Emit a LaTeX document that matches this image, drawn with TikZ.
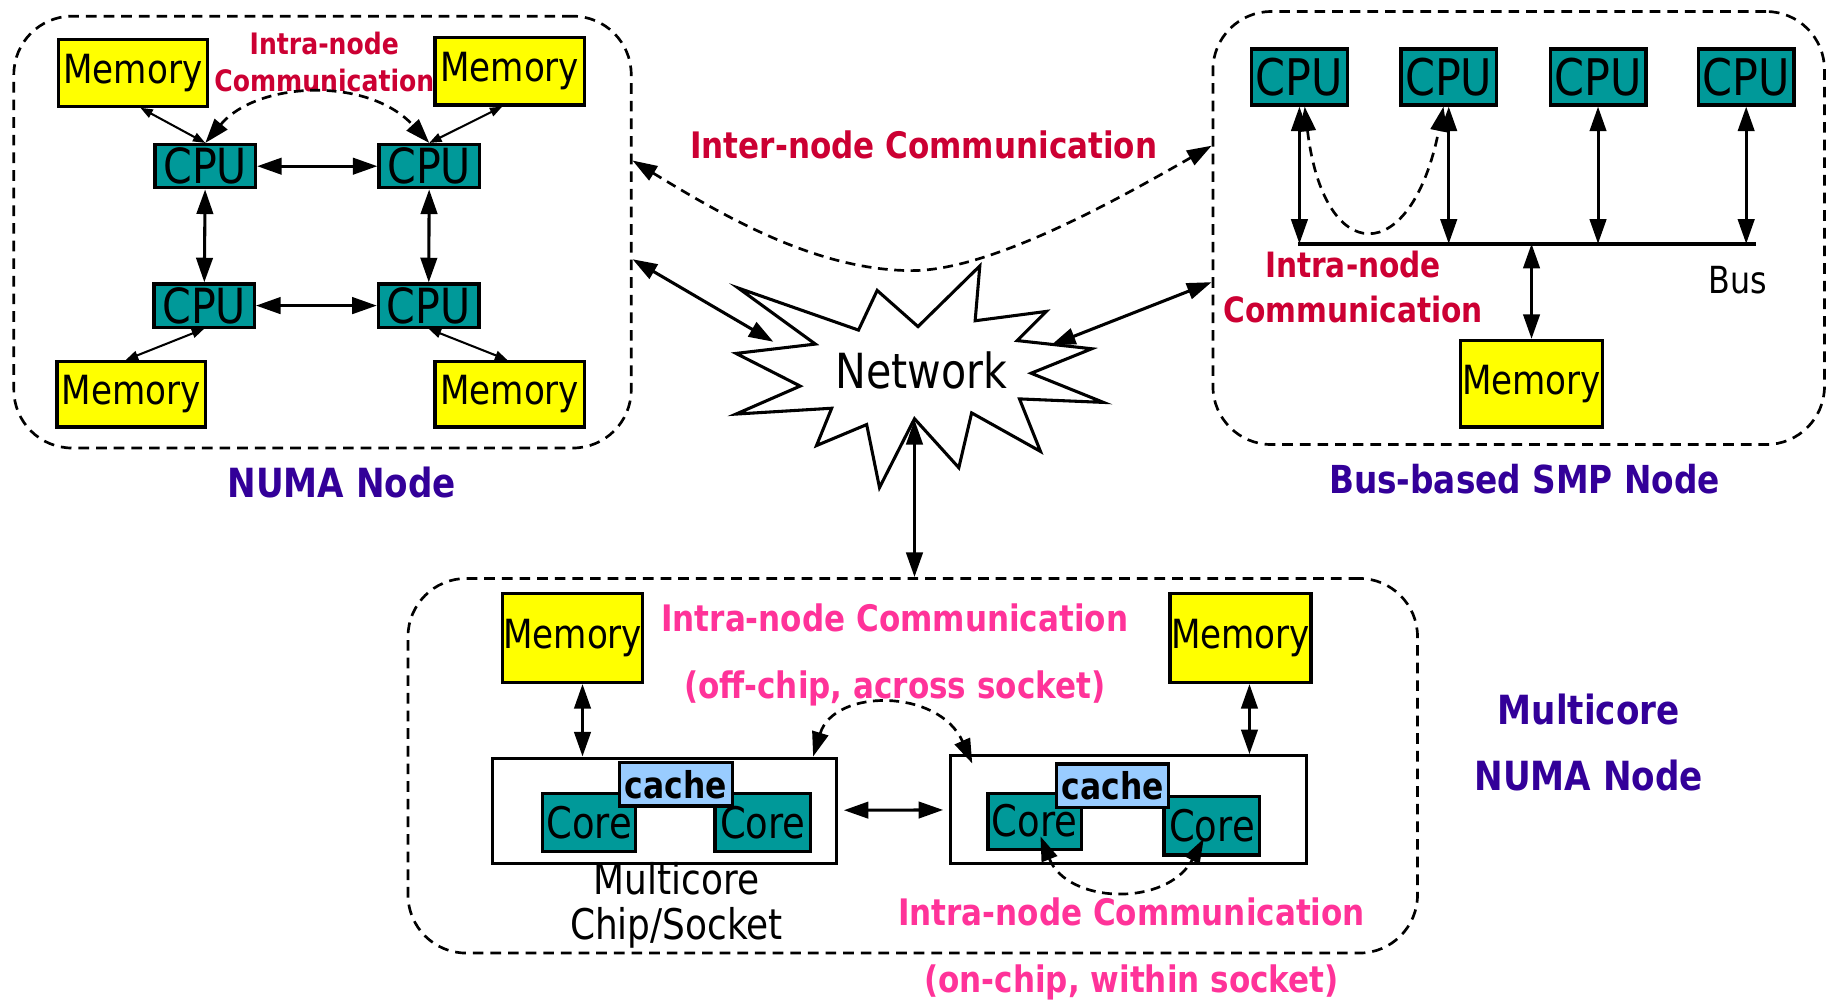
\documentclass[tikz,border=0pt]{standalone}
\usepackage{fontspec}
\setmainfont{DejaVu Sans}[FakeStretch=0.85]
\usetikzlibrary{arrows.meta}
\definecolor{cputeal}{RGB}{0,153,153}
\definecolor{memyellow}{RGB}{255,255,0}
\definecolor{cacheblue}{RGB}{153,204,255}
\definecolor{intrared}{RGB}{204,0,51}
\definecolor{intrapink}{RGB}{255,51,153}
\definecolor{nodepurple}{RGB}{51,0,153}

\begin{document}
\begin{tikzpicture}[x=0.01cm, y=-0.01cm,
  >={Triangle[length=6pt,width=4pt]},
  group/.style = {draw, dash pattern=on 2.6pt off 1.7pt, line width=0.65pt, rounded corners=0.5cm},
  box/.style = {draw, line width=0.8pt, inner sep=0pt},
  mem/.style = {box, fill=memyellow, font=\fontsize{9.8}{11}\selectfont},
  cpu/.style = {box, fill=cputeal, minimum width=0.86cm, minimum height=0.37cm, font=\fontsize{11.8}{13}\selectfont},
  core/.style = {box, fill=cputeal, minimum width=0.8cm, minimum height=0.5cm, font=\fontsize{10.6}{12}\selectfont},
  cache/.style = {box, fill=cacheblue, minimum width=0.97cm, minimum height=0.37cm, font=\bfseries\fontsize{9}{10}\selectfont},
  link/.style = {<->, line width=0.75pt},
  memlink/.style = {<->, >={Triangle[length=3pt,width=2.2pt]}, line width=0.5pt},
  comm/.style = {<->, dash pattern=on 2.4pt off 1.6pt, line width=0.65pt},
  title/.style = {text=nodepurple, font=\bfseries\fontsize{9.8}{16.2}\selectfont, align=center}]
\useasboundingbox (0,0) rectangle (1568,862);

% NUMA node
\node[group, minimum width=5.29cm, minimum height=3.70cm] (numa) at (276.5,199) {};
\node[mem, minimum width=1.28cm, minimum height=0.57cm] (mem1) at (114,62.5) {Memory};
\node[mem, minimum width=1.28cm, minimum height=0.58cm] (mem2) at (437,61) {Memory};
\node[mem, minimum width=1.27cm, minimum height=0.56cm] (mem3) at (112.5,338) {Memory};
\node[mem, minimum width=1.28cm, minimum height=0.56cm] (mem4) at (437,338) {Memory};
\node[cpu] (cpu1) at (176,142.5) {CPU};
\node[cpu] (cpu2) at (368,142.5) {CPU};
\node[cpu] (cpu3) at (175,262) {CPU};
\node[cpu] (cpu4) at (367.5,262) {CPU};
\node[text=intrared, font=\bfseries\fontsize{7.2}{9.1}\selectfont, align=center] (numacomm) at (278,53) {Intra-node\\Communication};
\node[title] (numatitle) at (293,414) {NUMA Node};
\draw[memlink] (mem1.-78) -- (cpu1.north);
\draw[memlink] (mem2.-102) -- (cpu2.north);
\draw[memlink] (cpu3.south) -- (mem3.99);
\draw[memlink] (cpu4.south) -- (mem4.94);
\draw[link] (cpu1) -- (cpu2);
\draw[link] (cpu3) -- (cpu4);
\draw[link] (cpu1) -- (cpu3);
\draw[link] (cpu2) -- (cpu4);
\draw[comm] (cpu1.north) .. controls (220,70) and (315,65) .. (cpu2.north);

% bus-based SMP node
\node[group, minimum width=5.24cm, minimum height=3.71cm] (smp) at (1302,195.5) {};
\node[cpu, minimum width=0.82cm, minimum height=0.48cm, font=\fontsize{12.3}{13}\selectfont] (scpu1) at (1114,66) {CPU};
\node[cpu, minimum width=0.82cm, minimum height=0.48cm, font=\fontsize{12.3}{13}\selectfont] (scpu2) at (1242,66) {CPU};
\node[cpu, minimum width=0.82cm, minimum height=0.48cm, font=\fontsize{12.3}{13}\selectfont] (scpu3) at (1370,66) {CPU};
\node[cpu, minimum width=0.82cm, minimum height=0.48cm, font=\fontsize{12.3}{13}\selectfont] (scpu4) at (1497,66) {CPU};
\node[mem, minimum width=1.22cm, minimum height=0.74cm] (smem) at (1313,329) {Memory};
\coordinate (bus) at (1113,209);
\coordinate (busend) at (1505,209);
\draw[line width=0.9pt] (bus) -- (busend);
\draw[link] (scpu1.south) -- (scpu1.south |- bus);
\draw[link] (scpu2.south) -- (scpu2.south |- bus);
\draw[link] (scpu3.south) -- (scpu3.south |- bus);
\draw[link] (scpu4.south) -- (scpu4.south |- bus);
\draw[link] (smem.north |- bus) -- (smem.north);
\draw[comm] (scpu1.-80) .. controls (1135,230) and (1210,230) .. (scpu2.-100);
\node[font=\fontsize{9.1}{10}\selectfont] (buslabel) at (1490,240) {Bus};
\node[text=intrared, font=\bfseries\fontsize{8.5}{11}\selectfont, align=center] (smpcomm) at (1160,246) {Intra-node\\Communication};
\node[title, font=\bfseries\fontsize{9.4}{11}\selectfont] (smptitle) at (1307,411) {Bus-based SMP Node};

% multicore NUMA node
\node[group, minimum width=8.65cm, minimum height=3.21cm] (mc) at (782.5,656.5) {};
\node[mem, minimum width=1.2cm, minimum height=0.76cm] (cmem1) at (491,547) {Memory};
\node[mem, minimum width=1.21cm, minimum height=0.76cm] (cmem2) at (1063.5,547) {Memory};
\node[box, fill=white, minimum width=2.95cm, minimum height=0.9cm] (chip1) at (569.5,695) {};
\node[box, fill=white, minimum width=3.05cm, minimum height=0.92cm] (chip2) at (967.5,694) {};
\node[core] (core1) at (505,705) {Core};
\node[core, minimum width=0.82cm] (core2) at (654,705) {Core};
\node[cache] (cache1) at (579.5,672.5) {cache};
\node[core, minimum height=0.48cm] (core3) at (887,704) {Core};
\node[core, minimum width=0.82cm] (core4) at (1039,708) {Core};
\node[cache, minimum width=0.96cm] (cache2) at (954,673.5) {cache};
\draw[link] (cmem1.-78) -- (cmem1.-78 |- chip1.north);
\draw[link] (cmem2.-79) -- (cmem2.-79 |- chip2.north);
\draw[link, shorten <=1.4pt, shorten >=1.4pt] (chip1) -- (chip2);
\draw[comm] (chip1.20.5) .. controls (715,590) and (805,590) .. ([shift={(20,8)}]chip2.north west);
\draw[comm] ([shift={(5,13)}]core3.center) .. controls (915,775) and (1000,778) .. ([shift={(-7,11)}]core4.center);
\node[font=\fontsize{10.3}{11}\selectfont, align=center] (chiplabel) at (580,776) {Multicore\\Chip/Socket};
\node[text=intrapink, font=\bfseries\fontsize{8.9}{16.2}\selectfont, align=center] (offchip) at (767,561.5) {Intra-node Communication\\(off-chip, across socket)};
\node[text=intrapink, font=\bfseries\fontsize{8.9}{16.2}\selectfont, align=center] (onchip) at (970,813.5) {Intra-node Communication\\(on-chip, within socket)};
\node[title] (mctitle) at (1362,636.5) {Multicore\\NUMA Node};

% network
\draw[line width=0.75pt, fill=white] (633,247) -- (736,283) -- (752,249) -- (787,280) -- (840,228) -- (836,275)
  -- (897,267) -- (872,292) -- (936,299) -- (884,320) -- (946,345) -- (874,342) -- (892,387) -- (833,354)
  -- (822,401) -- (784,359) -- (754,418) -- (743,364) -- (700,382) -- (713,350) -- (631,355) -- (686,331)
  -- (631,303) -- (699,295) -- cycle;
\node[font=\fontsize{11.8}{13}\selectfont] (net) at (790,318) {Network};
\coordinate (netW) at (663,293);
\coordinate (netE) at (901,296);
\coordinate (netS) at (784,360);
\draw[link] (numa.-5.4) -- (netW);
\draw[link] (smp.190.9) -- (netE);
\draw[link] (netS) -- (netS |- mc.north);
\node[text=intrared, font=\bfseries\fontsize{8.9}{10}\selectfont] (inter) at (792,124) {Inter-node Communication};
\draw[comm] (numa.13.2) .. controls (620,185) and (700,232) .. (782,232) .. controls (850,232) and (960,170) .. (smp.165.6);
\end{tikzpicture}
\end{document}
